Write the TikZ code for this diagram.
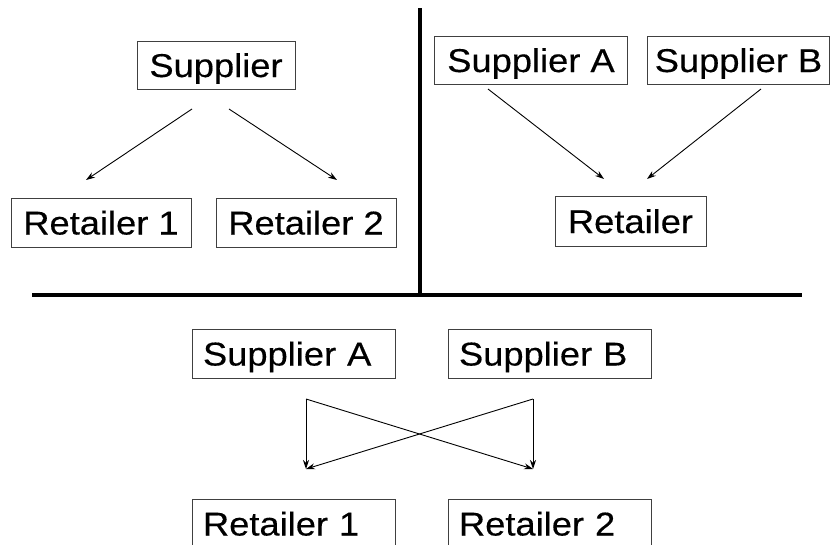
\documentclass[tikz,border=0pt]{standalone}
\usepackage{fontspec}
\setmainfont{Liberation Sans}[FakeStretch=1.1,FakeBold=0.35]
\usetikzlibrary{arrows.meta}
\begin{document}
\begin{tikzpicture}[x=1pt,y=-1pt,
  box/.style={draw=black!75,line width=0.9pt,rectangle,inner sep=0pt,
    font=\fontsize{33}{40}\selectfont,text height=24pt,text depth=0pt},
  leftbox/.style={box,inner xsep=11pt,text width=181pt,align=left,minimum height=49pt},
  conn/.style={line width=0.9pt,-{Stealth[length=9pt,width=6pt]}},
  divider/.style={line width=4pt}]
\useasboundingbox (0,0) rectangle (830,544);
% top left
\node[box,minimum width=158pt,minimum height=48pt] (sup) at (216,65) {Supplier};
\node[box,minimum width=180pt,minimum height=49pt] (r1) at (101,222.5) {Retailer 1};
\node[box,minimum width=180pt,minimum height=49pt] (r2) at (306,222.5) {Retailer 2};
% top right
\node[box,minimum width=193pt,minimum height=48pt] (supA) at (531,60) {Supplier A};
\node[box,minimum width=182pt,minimum height=48pt] (supB) at (738.5,60) {Supplier B};
\node[box,minimum width=151pt,minimum height=50pt] (ret) at (630.5,221) {Retailer};
% bottom
\node[leftbox] (supA2) at (293.5,353.5) {Supplier A};
\node[leftbox] (supB2) at (549.5,353.5) {Supplier B};
\node[leftbox] (r1b) at (293.5,523.5) {Retailer 1};
\node[leftbox] (r2b) at (549.5,523.5) {Retailer 2};
% dividers
\coordinate (vtop) at (420,8);
\coordinate (vbot) at (420,295);
\coordinate (hl) at (32,295);
\coordinate (hr) at (802,295);
\draw[divider] (vtop) -- (vbot);
\draw[divider] (hl) -- (hr);
% top-left arrows
\coordinate (s1) at (192,109); \coordinate (e1) at (86,180);
\coordinate (s2) at (229,109); \coordinate (e2) at (337,180);
\draw[conn] (s1) -- (e1);
\draw[conn] (s2) -- (e2);
% top-right arrows
\coordinate (s3) at (488,89); \coordinate (e3) at (604,179);
\coordinate (s4) at (761,89); \coordinate (e4) at (647,179);
\draw[conn] (s3) -- (e3);
\draw[conn] (s4) -- (e4);
% bottom arrows
\coordinate (bA) at (306,399); \coordinate (bB) at (533,399);
\coordinate (b1) at (306,469); \coordinate (b2) at (533,469);
\draw[conn] (bA) -- (b1);
\draw[conn] (bA) -- (b2);
\draw[conn] (bB) -- (b2);
\draw[conn] (bB) -- (b1);
\end{tikzpicture}
\end{document}
